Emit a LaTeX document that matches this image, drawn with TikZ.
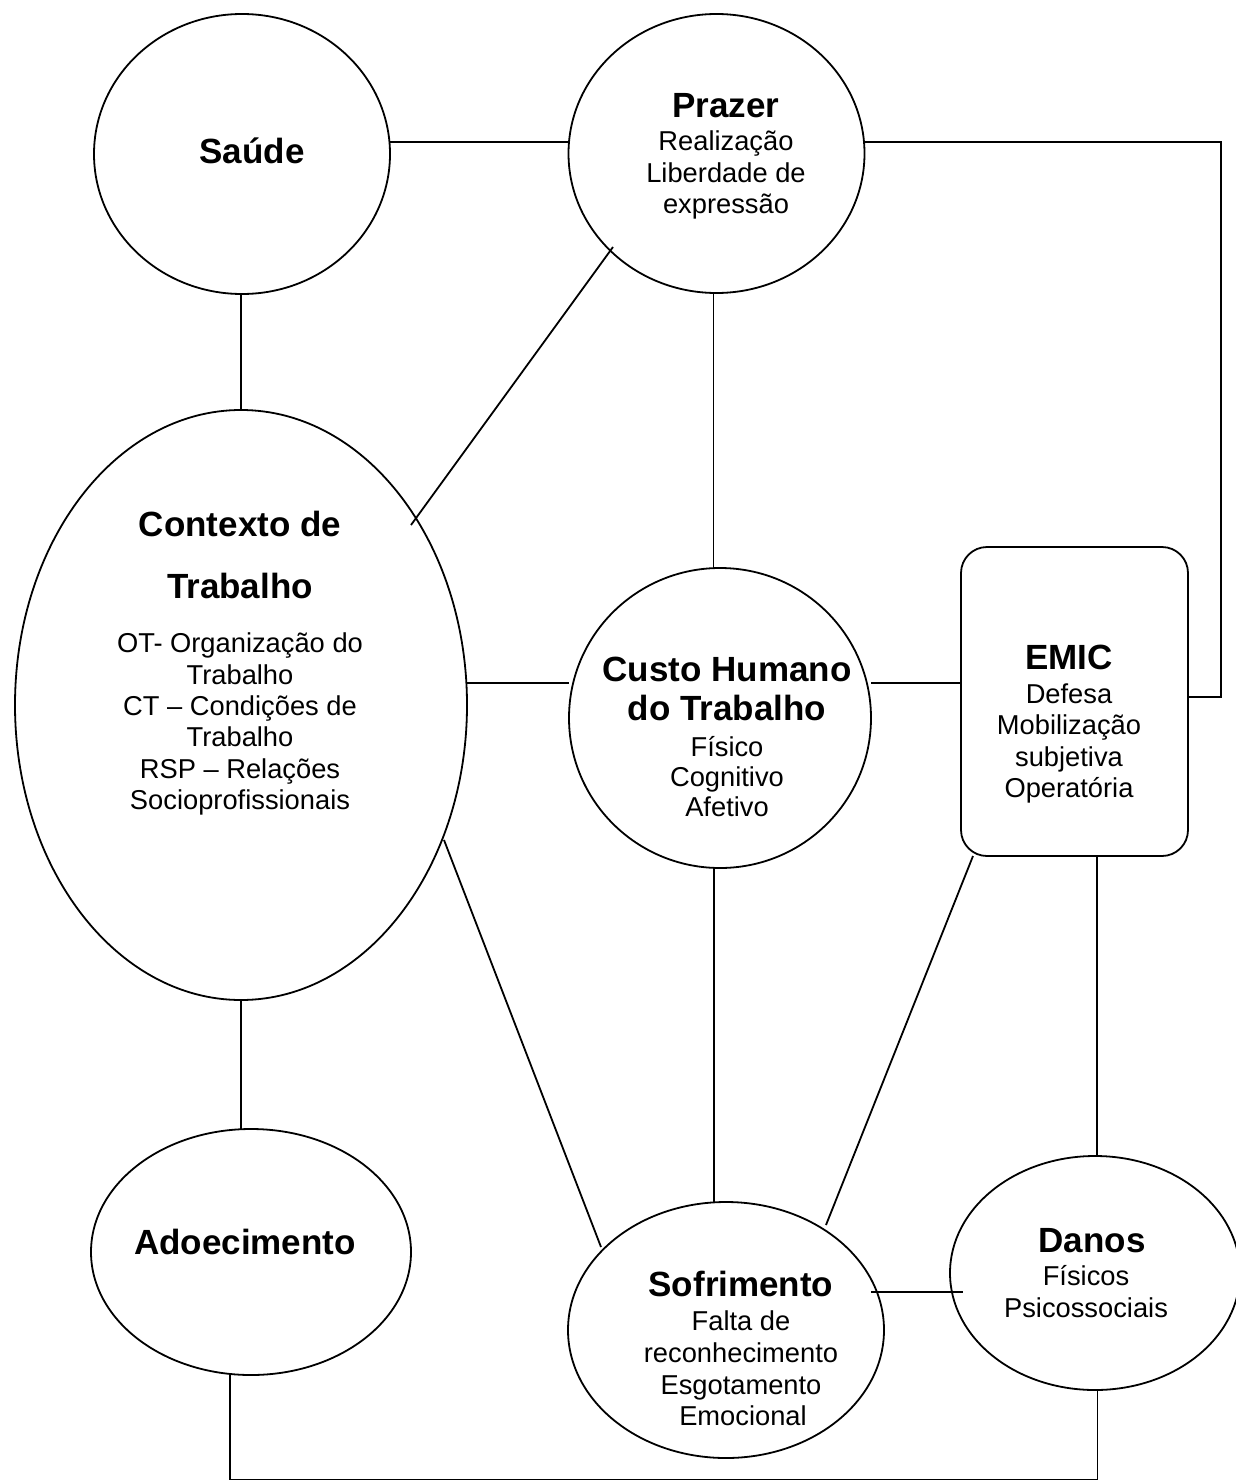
\documentclass[tikz,border=0pt]{standalone}
\usepackage{fontspec}
\setmainfont{Liberation Sans}
\usetikzlibrary{shapes.geometric,calc}
\begin{document}
\begin{tikzpicture}[x=1pt,y=-1pt,
  shp/.style={draw,line width=1.8pt,inner sep=0pt,outer sep=0pt},
  oval/.style={shp,ellipse},
  conn/.style={line width=1.8pt},
  ttl/.style={anchor=base,inner sep=0pt,font=\fontsize{35}{40}\selectfont\bfseries},
  bdy/.style={anchor=base,inner sep=0pt,font=\fontsize{27.3}{31.5}\selectfont}]
\useasboundingbox (0,0) rectangle (1236,1480);
\fill[white] (0,0) rectangle (1236,1480);

% shapes
\node[oval,minimum width=296pt,minimum height=280pt] (saude) at (242,154) {};
\node[oval,minimum width=296pt,minimum height=279pt] (prazer) at (716.5,153.5) {};
\node[oval,minimum width=452pt,minimum height=590pt] (contexto) at (241,705) {};
\node[oval,minimum width=302pt,minimum height=300pt] (custo) at (720,718) {};
\node[shp,rectangle,rounded corners=26pt,minimum width=227pt,minimum height=309pt] (emic) at (1074.5,701.5) {};
\node[oval,minimum width=320pt,minimum height=246pt] (adoec) at (251,1252) {};
\node[oval,minimum width=316pt,minimum height=256pt] (sofr) at (726,1330) {};
\node[oval,minimum width=290pt,minimum height=234pt] (danos) at (1095,1273) {};

% helper coordinates
\coordinate (rt) at (1221,142);
\coordinate (bot) at (0,1479.6);
\coordinate (pc) at ([xshift=-3pt]prazer.south);
\coordinate (cs) at ([xshift=-6pt]custo.south);
\coordinate (ed) at ([xshift=22.5pt]emic.south);
\coordinate (ab) at ([xshift=-21pt]adoec.south);
\coordinate (db) at ([xshift=2.5pt]danos.south);

% connectors
\draw[conn] ([yshift=12pt]saude.east) -- ([yshift=11.5pt]prazer.west);
\draw[conn] ([yshift=11.5pt]prazer.east) -- (rt) |- ([yshift=4.5pt]emic.east);
\draw[conn] (pc) -- (pc |- custo.north);
\draw[conn] ($(prazer.center)+(-103.5,93.5)$) -- ($(contexto.center)+(170,-180)$);
\draw[conn] (contexto.north) -- (contexto.north |- saude.south);
\draw[conn] ($(contexto.center)+(226,-22)$) -- ($(custo.center)+(-151,-35)$);
\draw[conn] ($(custo.center)+(151,-35)$) -- ($(emic.west)+(0,-18.5)$);
\draw[conn] (cs) -- (cs |- sofr.north);
\draw[conn] ($(emic.south west)+(12,0)$) -- ($(sofr.center)+(100,-105)$);
\draw[conn] (ed) -- (ed |- danos.north);
\draw[conn] ($(contexto.center)+(203,135)$) -- ($(sofr.center)+(-125,-83)$);
\draw[conn] (contexto.south) -- (contexto.south |- adoec.north);
\draw[conn] ($(sofr.center)+(145,-38)$) -- ($(danos.center)+(-132,19)$);
\draw[conn] (ab) |- (db |- bot) -- (db);

% texts
\node[ttl] (t-saude) at (252,163.5) {Saúde};

\node[ttl] (t-prazer) at (726,117) {Prazer};
\node[bdy] (t-prazer1) at (726,150) {Realização};
\node[bdy] (t-prazer2) at (726,182) {Liberdade de};
\node[bdy] (t-prazer3) at (726,213) {expressão};

\node[ttl] (t-ctx1) at (240,536.5) {Contexto de};
\node[ttl] (t-ctx2) at (240,598.5) {Trabalho};
\node[bdy] (t-ctx3) at (240,652) {OT- Organização do};
\node[bdy] (t-ctx4) at (240,684) {Trabalho};
\node[bdy] (t-ctx5) at (240,715) {CT – Condições de};
\node[bdy] (t-ctx6) at (240,746) {Trabalho};
\node[bdy] (t-ctx7) at (240,778) {RSP – Relações};
\node[bdy] (t-ctx8) at (240,809) {Socioprofissionais};

\node[ttl] (t-custo1) at (727,681.5) {Custo Humano};
\node[ttl] (t-custo2) at (727,720.5) {do Trabalho};
\node[bdy] (t-custo3) at (727,756) {Físico};
\node[bdy] (t-custo4) at (727,786) {Cognitivo};
\node[bdy] (t-custo5) at (727,816) {Afetivo};

\node[ttl] (t-emic) at (1069,669.5) {EMIC};
\node[bdy] (t-emic1) at (1069,703) {Defesa};
\node[bdy] (t-emic2) at (1069,734.5) {Mobilização};
\node[bdy] (t-emic3) at (1069,766) {subjetiva};
\node[bdy] (t-emic4) at (1069,797.5) {Operatória};

\node[ttl] (t-adoec) at (245,1254.5) {Adoecimento};

\node[ttl] (t-sofr) at (741,1296.5) {Sofrimento};
\node[bdy] (t-sofr1) at (741,1330) {Falta de};
\node[bdy] (t-sofr2) at (741,1362) {reconhecimento};
\node[bdy] (t-sofr3) at (741,1394) {Esgotamento};
\node[bdy] (t-sofr4) at (743,1425) {Emocional};

\node[ttl] (t-danos) at (1092,1252.5) {Danos};
\node[bdy] (t-danos1) at (1086,1285) {Físicos};
\node[bdy] (t-danos2) at (1086,1317) {Psicossociais};
\end{tikzpicture}
\end{document}
